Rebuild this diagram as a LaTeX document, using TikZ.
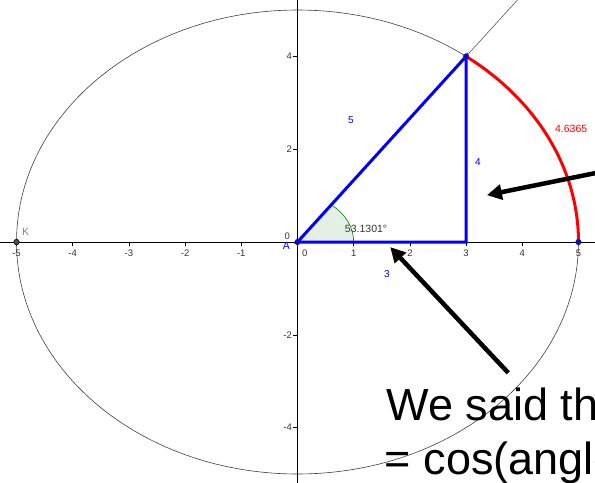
\documentclass[tikz,border=0pt]{standalone}
\usepackage{fontspec}
\setmainfont{Liberation Sans}
\usetikzlibrary{arrows.meta}
\tikzset{
  ticklabel/.style={font=\fontsize{9.5}{9.5}\selectfont, text=black!80, inner sep=1pt},
  seglabel/.style={font=\fontsize{10}{10}\selectfont, text=blue, inner sep=1pt},
  side/.style={blue, line width=3pt, line cap=round},
  pointer/.style={black, line width=4.5pt, -{Triangle[length=15pt,width=15pt]}},
  bigtext/.style={font=\fontsize{45}{45}\selectfont, inner sep=0pt, anchor=base west}
}
\begin{document}
\begin{tikzpicture}[x=56.2pt, y=46.4pt]
        \useasboundingbox (-5.294,-5.194) rectangle (5.294,5.216);
        \clip (-5.294,-5.194) rectangle (5.294,5.216);
        % points
        \coordinate (O) at (0,0);
        \coordinate (P) at (3,4);
        \coordinate (Q) at (3,0);
        \coordinate (R) at (5,0);
        \coordinate (K) at (-5,0);
        % angle sector
        \fill[green!40!black!10] (O) -- (1,0) arc[start angle=0, end angle=53.1301, radius=1] -- cycle;
        \draw[green!50!black, line width=0.6pt] (1,0) arc[start angle=0, end angle=53.1301, radius=1];
        % axes
        \draw[black, line width=0.6pt] (-5.4,0) -- (5.4,0);
        \draw[black, line width=0.6pt] (0,-5.3) -- (0,5.3);
        \foreach \i in {-5,-4,-3,-2,-1,1,2,3,4,5} {
          \draw[black, line width=0.5pt] (\i,0) -- (\i,-0.09);
          \node[ticklabel] at (\i,-0.24) {\i};
        }
        \foreach \j in {-4,-2,2,4} {
          \draw[black, line width=0.5pt] (0,\j) -- (-0.08,\j);
          \node[ticklabel, anchor=east] at (-0.08,\j) {\j};
        }
        \node[ticklabel] at (0.13,-0.24) {0};
        \node[ticklabel] at (-0.18,0.13) {0};
        % circle, ray and arc
        \draw[black!75, line width=0.6pt] (O) circle[radius=5];
        \draw[black!65, line width=0.6pt] (P) -- (4.6,6.13);
        \draw[red, line width=3pt] (R) arc[start angle=0, end angle=53.1301, radius=5];
        % triangle
        \draw[side] (O) -- (P) -- (Q) -- cycle;
        \path[fill=blue, draw=black!80, line width=0.5pt] (O) circle (2.8pt);
        \path[fill=blue, draw=black!80, line width=0.5pt] (P) circle (2.8pt);
        \path[fill=blue, draw=black!80, line width=0.5pt] (R) circle (2.8pt);
        \path[fill=black!70, draw=black, line width=0.5pt] (K) circle (2.8pt);
        % labels
        \node[seglabel] at (0.95,2.63) {5};
        \node[seglabel] at (3.21,1.72) {4};
        \node[seglabel] at (1.59,-0.69) {3};
        \node[font=\fontsize{10.5}{10.5}\selectfont, text=black!80, inner sep=1pt] at (1.22,0.28) {53.1301°};
        \node[font=\fontsize{10.5}{10.5}\selectfont, text=red, inner sep=0pt, anchor=base west] at (4.58,2.37) {4.6365};
        \node[font=\fontsize{10.5}{10.5}\selectfont, text=black!50, inner sep=1pt] at (-4.84,0.22) {K};
        \node[font=\fontsize{10.5}{10.5}\selectfont, text=blue, inner sep=1pt] at (-0.2,-0.08) {A};
        % pointers
        \coordinate (t1) at (5.4,1.51);
        \coordinate (h1) at (3.37,1.01);
        \coordinate (t2) at (3.75,-2.82);
        \coordinate (h2) at (1.65,-0.11);
        \draw[pointer] (t1) -- (h1);
        \draw[pointer] (t2) -- (h2);
        % text
        \node[bigtext] (line1) at (1.58,-3.84) {We said that};
        \node[bigtext] (line2) at (1.55,-5.02) {= cos(angle)};
    \end{tikzpicture}
\end{document}
